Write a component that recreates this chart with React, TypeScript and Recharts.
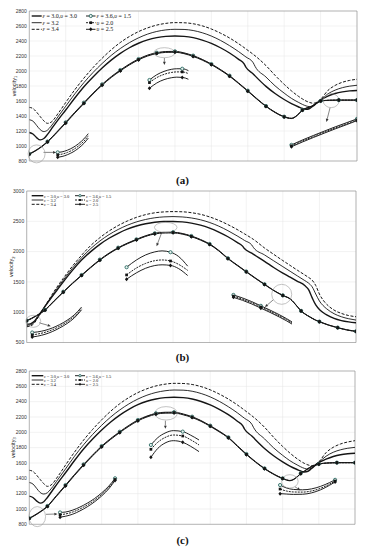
import React from 'react';
import {
  LineChart, Line, XAxis, YAxis, CartesianGrid, ReferenceDot, ReferenceLine,
  ReferenceArea, Legend, Label,
} from 'recharts';

// ---------------- tick labels ----------------
const xTicks = [0, 10, 20, 30, 40, 50, 60, 70, 80, 90];
const yTicks13 = [800, 1000, 1200, 1400, 1600, 1800, 2000, 2200, 2400, 2600, 2800];
const yTicks2 = [500, 1000, 1500, 2000, 2500, 3000];

// ---------------- shared theta grids ----------------
const thetaE = [0, 1, 2, 3, 4, 5, 6, 8, 10, 12.5, 15, 17.5, 20, 22.5, 25, 27.5, 30, 32.5, 35, 37.5, 40, 42.5, 45, 47.5, 50, 52.5, 55, 57.5, 59, 59.5, 61.5, 62, 65, 67.5, 70, 72, 74, 75, 76, 77, 78, 79, 80, 82, 84, 86, 88, 90];
const thetaEB = [0, 1, 2, 3, 4, 5, 6, 8, 10, 12.5, 15, 17.5, 20, 22.5, 25, 27.5, 30, 32.5, 35, 37.5, 40, 42.5, 45, 47.5, 50, 52.5, 55, 57.5, 59, 59.5, 61.5, 62, 65, 67.5, 70, 72, 74, 76, 77, 78, 79, 80, 81, 82, 84, 86, 88, 90];
const thetaL = [0, 2.5, 5, 7.5, 10, 12.5, 15, 17.5, 20, 22.5, 25, 27.5, 30, 32.5, 35, 37.5, 40, 42.5, 45, 47.5, 50, 52.5, 55, 57.5, 60, 62.5, 65, 67.5, 70, 72, 74, 75, 76, 77.5, 79, 80, 82.5, 85, 87.5, 90];

// ---------------- panel (a): velocity 1 ----------------
const a_e30 = [1180, 1160, 1112, 1082, 1100, 1155, 1222, 1355, 1480, 1640, 1790, 1920, 2040, 2145, 2235, 2310, 2370, 2415, 2445, 2462, 2467, 2462, 2445, 2412, 2368, 2310, 2240, 2155, 2095, 2050, 1960, 1935, 1795, 1700, 1620, 1565, 1520, 1500, 1488, 1500, 1535, 1575, 1610, 1665, 1700, 1722, 1735, 1740];
const a_e32 = [1350, 1332, 1275, 1218, 1192, 1212, 1265, 1398, 1530, 1695, 1845, 1980, 2100, 2208, 2300, 2378, 2442, 2492, 2527, 2548, 2556, 2554, 2540, 2510, 2466, 2408, 2338, 2258, 2205, 2187, 2110, 2062, 1920, 1802, 1705, 1635, 1580, 1555, 1535, 1525, 1540, 1575, 1612, 1695, 1745, 1778, 1798, 1810];
const a_e34 = [1515, 1500, 1452, 1392, 1335, 1302, 1318, 1440, 1580, 1750, 1905, 2045, 2170, 2283, 2380, 2460, 2525, 2575, 2612, 2635, 2645, 2643, 2630, 2602, 2560, 2505, 2440, 2363, 2312, 2294, 2222, 2203, 2072, 1942, 1822, 1735, 1660, 1628, 1600, 1580, 1570, 1585, 1622, 1740, 1808, 1850, 1875, 1890];
const a_u15 = [895, 965, 1060, 1185, 1316, 1450, 1578, 1705, 1822, 1925, 2013, 2093, 2160, 2212, 2244, 2260, 2262, 2242, 2205, 2155, 2093, 2020, 1938, 1840, 1738, 1632, 1533, 1452, 1391, 1370, 1430, 1480, 1505, 1530, 1575, 1600, 1610, 1612, 1612, 1612];
const a_u20 = [892, 962, 1056, 1180, 1310, 1444, 1572, 1699, 1816, 1919, 2007, 2087, 2154, 2206, 2238, 2254, 2256, 2236, 2199, 2150, 2088, 2015, 1933, 1836, 1734, 1628, 1530, 1449, 1389, 1368, 1428, 1478, 1503, 1528, 1573, 1600, 1610, 1612, 1612, 1612];
const a_u25 = [889, 958, 1052, 1175, 1304, 1438, 1566, 1693, 1810, 1913, 2001, 2081, 2148, 2200, 2232, 2248, 2250, 2231, 2194, 2145, 2084, 2011, 1929, 1832, 1730, 1625, 1527, 1446, 1387, 1366, 1426, 1476, 1501, 1526, 1571, 1600, 1610, 1612, 1612, 1612];
// zoomed insets (a)
const a1_t = [7.8, 9, 10.5, 12, 13.5, 15, 16.2];
const a1_u15 = [915, 922, 945, 980, 1030, 1095, 1165];
const a1_u20 = [882, 892, 915, 950, 1000, 1065, 1135];
const a1_u25 = [850, 860, 885, 920, 970, 1035, 1105];
const a1_marks = [7.8];
const a2_t = [33, 35, 37, 39, 40.5, 42, 43.7];
const a2_u15 = [1880, 1950, 1995, 2022, 2030, 2030, 2005];
const a2_u20 = [1845, 1912, 1955, 1980, 1988, 1988, 1965];
const a2_u25 = [1770, 1840, 1885, 1910, 1918, 1915, 1890];
const a2_marks = [33, 42];
const a3_t = [72, 75, 78, 81, 84, 87, 90];
const a3_u15 = [1015, 1080, 1140, 1198, 1255, 1308, 1362];
const a3_u20 = [1002, 1066, 1126, 1184, 1241, 1294, 1350];
const a3_u25 = [990, 1053, 1113, 1171, 1228, 1282, 1338];
const a3_marks = [72, 90];

// ---------------- panel (b): velocity 2 ----------------
const b_e30 = [800, 808, 845, 925, 1008, 1095, 1178, 1340, 1500, 1690, 1860, 2000, 2120, 2220, 2302, 2370, 2422, 2460, 2485, 2496, 2497, 2490, 2470, 2436, 2386, 2322, 2245, 2152, 2090, 2050, 1975, 1955, 1840, 1738, 1645, 1578, 1510, 1440, 1375, 1240, 1120, 1045, 995, 955, 898, 862, 840, 825];
const b_e32 = [780, 790, 830, 915, 1005, 1100, 1190, 1365, 1530, 1725, 1900, 2050, 2175, 2280, 2365, 2435, 2490, 2530, 2558, 2573, 2578, 2572, 2555, 2525, 2480, 2420, 2345, 2260, 2205, 2185, 2110, 2065, 1945, 1848, 1752, 1675, 1598, 1522, 1482, 1420, 1300, 1185, 1110, 1055, 975, 925, 892, 870];
const b_e34 = [760, 770, 815, 900, 1000, 1100, 1200, 1390, 1560, 1760, 1940, 2100, 2230, 2340, 2430, 2505, 2565, 2610, 2640, 2655, 2660, 2657, 2642, 2615, 2572, 2515, 2445, 2365, 2312, 2294, 2220, 2200, 2060, 1955, 1852, 1772, 1692, 1615, 1575, 1530, 1440, 1300, 1200, 1130, 1035, 980, 945, 925];
const b_u15 = [862, 940, 1040, 1190, 1338, 1480, 1614, 1745, 1868, 1975, 2065, 2140, 2203, 2262, 2302, 2318, 2320, 2300, 2258, 2200, 2126, 2020, 1890, 1780, 1672, 1565, 1462, 1362, 1278, 1222, 1092, 1022, 975, 920, 870, 845, 790, 746, 710, 685];
const b_u20 = [858, 936, 1036, 1186, 1333, 1475, 1609, 1740, 1862, 1969, 2059, 2134, 2197, 2256, 2296, 2312, 2314, 2294, 2252, 2194, 2121, 2015, 1886, 1776, 1668, 1561, 1459, 1359, 1276, 1220, 1090, 1020, 973, 918, 868, 843, 788, 744, 708, 683];
const b_u25 = [855, 932, 1032, 1181, 1328, 1470, 1604, 1735, 1857, 1964, 2054, 2129, 2192, 2251, 2291, 2307, 2309, 2289, 2247, 2189, 2116, 2011, 1882, 1772, 1664, 1557, 1456, 1356, 1274, 1218, 1088, 1018, 971, 916, 866, 841, 786, 742, 706, 681];
const b1_t = [1.5, 3, 5, 7, 9, 11, 13, 15];
const b1_u15 = [665, 675, 700, 740, 795, 865, 955, 1085];
const b1_u20 = [625, 640, 668, 710, 768, 840, 930, 1060];
const b1_u25 = [590, 605, 635, 680, 740, 812, 905, 1040];
const b1_marks = [1.5];
const b2_t = [27.3, 30, 32.5, 35, 37, 39.3, 41.5, 44];
const b2_u15 = [1742, 1862, 1945, 1995, 2012, 1990, 1920, 1760];
const b2_u20 = [1615, 1730, 1805, 1850, 1862, 1845, 1790, 1690];
const b2_u25 = [1544, 1650, 1725, 1770, 1782, 1772, 1720, 1605];
const b2_marks = [27.3, 39.3];
const b3_t = [56.5, 59, 61.5, 64, 66.5, 69, 71, 72.5];
const b3_u15 = [1285, 1235, 1175, 1105, 1035, 960, 895, 840];
const b3_u20 = [1265, 1215, 1155, 1086, 1016, 941, 877, 822];
const b3_u25 = [1245, 1196, 1136, 1067, 997, 922, 858, 804];
const b3_marks = [56.5, 64];

// ---------------- panel (c): velocity 3 ----------------
const c_e30 = [1168, 1150, 1105, 1076, 1095, 1150, 1215, 1348, 1472, 1632, 1782, 1912, 2030, 2135, 2225, 2300, 2360, 2405, 2435, 2452, 2457, 2452, 2435, 2402, 2358, 2300, 2230, 2145, 2085, 2040, 1952, 1928, 1790, 1695, 1615, 1560, 1515, 1495, 1482, 1492, 1528, 1568, 1605, 1650, 1685, 1708, 1720, 1726];
const c_e32 = [1345, 1326, 1270, 1215, 1195, 1212, 1262, 1392, 1522, 1688, 1838, 1972, 2092, 2200, 2292, 2370, 2434, 2484, 2520, 2542, 2552, 2550, 2536, 2506, 2462, 2404, 2334, 2254, 2200, 2182, 2105, 2060, 1915, 1798, 1700, 1630, 1575, 1550, 1530, 1520, 1535, 1570, 1608, 1688, 1740, 1772, 1792, 1804];
const c_e34 = [1505, 1490, 1442, 1385, 1330, 1295, 1312, 1432, 1572, 1742, 1898, 2038, 2163, 2276, 2373, 2453, 2518, 2568, 2605, 2628, 2639, 2637, 2624, 2596, 2554, 2499, 2434, 2357, 2306, 2288, 2216, 2197, 2066, 1936, 1816, 1730, 1655, 1623, 1595, 1575, 1565, 1580, 1615, 1735, 1805, 1848, 1874, 1891];
const c_u15 = [880, 950, 1039, 1175, 1312, 1450, 1582, 1705, 1821, 1920, 2008, 2090, 2161, 2212, 2248, 2262, 2263, 2240, 2204, 2152, 2087, 2015, 1935, 1825, 1717, 1618, 1530, 1458, 1400, 1372, 1420, 1465, 1495, 1543, 1575, 1587, 1600, 1604, 1604, 1604];
const c_u20 = [878, 947, 1035, 1170, 1306, 1444, 1576, 1699, 1815, 1914, 2002, 2084, 2155, 2206, 2242, 2256, 2257, 2234, 2198, 2147, 2082, 2010, 1931, 1821, 1713, 1614, 1527, 1455, 1398, 1370, 1418, 1463, 1493, 1541, 1573, 1586, 1600, 1604, 1604, 1604];
const c_u25 = [875, 943, 1031, 1165, 1300, 1438, 1570, 1693, 1809, 1908, 1996, 2078, 2149, 2200, 2236, 2250, 2251, 2229, 2193, 2142, 2078, 2006, 1927, 1817, 1709, 1611, 1524, 1452, 1396, 1368, 1416, 1461, 1491, 1539, 1571, 1585, 1600, 1604, 1604, 1604];
const c1_t = [8.5, 10, 12, 14, 16, 18, 20, 22, 23.7];
const c1_u15 = [955, 960, 985, 1025, 1075, 1135, 1210, 1300, 1400];
const c1_u20 = [925, 935, 960, 1000, 1052, 1113, 1190, 1282, 1385];
const c1_u25 = [893, 905, 932, 975, 1028, 1092, 1170, 1265, 1372];
const c1_marks = [8.5, 23.7];
const c2_t = [33.6, 35.5, 37.5, 39.8, 42.4, 44.5, 46.9];
const c2_u15 = [1835, 1930, 1990, 2022, 2009, 1965, 1900];
const c2_u20 = [1778, 1870, 1932, 1965, 1952, 1905, 1835];
const c2_u25 = [1674, 1790, 1860, 1891, 1870, 1820, 1748];
const c2_marks = [33.6, 42.4];
const c3_t = [69.3, 71, 73, 75.5, 78, 80.5, 83, 84.5];
const c3_u15 = [1312, 1275, 1255, 1250, 1262, 1295, 1345, 1380];
const c3_u20 = [1260, 1235, 1222, 1220, 1235, 1270, 1325, 1365];
const c3_u25 = [1200, 1195, 1190, 1192, 1210, 1250, 1310, 1352];
const c3_marks = [69.3, 84.5];

// ---------------- legend ----------------
const legendText: [string, boolean][][] = [
  [['ε', true], [' = 3.0,', false], ['υ', true], [' = 3.0', false]],
  [['ε', true], [' = 3.2', false]],
  [['ε', true], [' = 3.4', false]],
  [['ε', true], [' = 3.6,', false], ['υ', true], [' = 1.5', false]],
  [['υ', true], [' = 2.0', false]],
  [['υ', true], [' = 2.5', false]],
];

// ---------------- styling ----------------
const TEAL = '#2b6b63';
const INK = '#151515';
type Style = 'e30' | 'e32' | 'e34' | 'u15' | 'u20' | 'u25';
const legendStyles: Style[] = ['e30', 'e32', 'e34', 'u15', 'u20', 'u25'];
const STY: Record<Style, { w: number; dash?: string; marker?: 'circle' | 'square' | 'diamond' }> = {
  e30: { w: 1.4 },
  e32: { w: 0.9 },
  e34: { w: 1.0, dash: '3 1.6' },
  u15: { w: 0.95, marker: 'circle' },
  u20: { w: 0.95, dash: '2 1', marker: 'square' },
  u25: { w: 0.95, marker: 'diamond' },
};

type Pt = { t: number; v: number };
const zip = (t: number[], v: number[]): Pt[] => t.map((x, i) => ({ t: x, v: v[i] }));

function drawMarker(kind: string, cx: number, cy: number, key: string, s = 1) {
  if (kind === 'circle')
    return <circle key={key} cx={cx} cy={cy} r={1.6 * s} fill="#e8f0ee" stroke={TEAL} strokeWidth={0.9} />;
  if (kind === 'square')
    return <rect key={key} x={cx - 1.35 * s} y={cy - 1.35 * s} width={2.7 * s} height={2.7 * s} fill={INK} />;
  return (
    <polygon key={key} points={`${cx},${cy - 2 * s} ${cx + 1.7 * s},${cy} ${cx},${cy + 2 * s} ${cx - 1.7 * s},${cy}`} fill={INK} />
  );
}

const dotFn = (kind: string | undefined, marks: number[] | 'every5') => (p: any) => {
  const key = `d${p.index}`;
  if (!kind || p.cx == null || p.cy == null || !p.payload) return <g key={key} />;
  const t = p.payload.t;
  const show = marks === 'every5' ? t % 5 === 0 : marks.includes(t);
  return show ? drawMarker(kind, p.cx, p.cy, key) : <g key={key} />;
};

const arrowShape = (p: any) => {
  const { x1, y1, x2, y2 } = p;
  if ([x1, y1, x2, y2].some((v) => v == null || isNaN(v))) return <g />;
  const a = Math.atan2(y2 - y1, x2 - x1);
  const L = 3.2, H = 1.4;
  const bx = x2 - L * Math.cos(a), by = y2 - L * Math.sin(a);
  const pts = `${x2},${y2} ${bx + H * Math.sin(a)},${by - H * Math.cos(a)} ${bx - H * Math.sin(a)},${by + H * Math.cos(a)}`;
  return (
    <g>
      <line x1={x1} y1={y1} x2={bx} y2={by} stroke="#333" strokeWidth={0.6} />
      <polygon points={pts} fill="#333" />
    </g>
  );
};

type Ser = { id: string; style: Style; data: Pt[]; marks: number[] | 'every5' };
type Ell = { t: number; v: number; rx: number; ry: number };
type Arr = { t1: number; v1: number; t2: number; v2: number };
type LegendGeom = { left: number; top: number; w: number; h: number; font: number; rows: number[]; c1: [number, number]; t1: number; c2: [number, number]; t2: number };
type Cfg = {
  top: number; height: number; margin: { top: number; right: number; bottom: number; left: number };
  yAxisWidth: number; yDomain: [number, number]; yTicks: number[]; sub: string; yLabelX: number;
  xLabelX: number; xLabelDy: number; series: Ser[]; ellipses: Ell[]; arrows: Arr[]; legend: LegendGeom;
};

function buildSeries(
  tE: number[], e30: number[], e32: number[], e34: number[],
  u15: number[], u20: number[], u25: number[],
  insets: { t: number[]; a: number[]; b: number[]; c: number[]; marks: number[] }[],
): Ser[] {
  const out: Ser[] = [
    { id: 'e30', style: 'e30', data: zip(tE, e30), marks: [] },
    { id: 'e32', style: 'e32', data: zip(tE, e32), marks: [] },
    { id: 'e34', style: 'e34', data: zip(tE, e34), marks: [] },
    { id: 'u15', style: 'u15', data: zip(thetaL, u15), marks: 'every5' },
    { id: 'u20', style: 'u20', data: zip(thetaL, u20), marks: 'every5' },
    { id: 'u25', style: 'u25', data: zip(thetaL, u25), marks: 'every5' },
  ];
  insets.forEach((ins, k) => {
    out.push({ id: `i${k}a`, style: 'u15', data: zip(ins.t, ins.a), marks: ins.marks });
    out.push({ id: `i${k}b`, style: 'u20', data: zip(ins.t, ins.b), marks: ins.marks });
    out.push({ id: `i${k}c`, style: 'u25', data: zip(ins.t, ins.c), marks: ins.marks });
  });
  return out;
}

const legendA: LegendGeom = { left: 30, top: 11, w: 112, h: 24, font: 6, rows: [5, 11.7, 18.3], c1: [1.7, 11.7], t1: 12.5, c2: [56, 65.5], t2: 66.5 };
const legendBC: LegendGeom = { left: 30, top: 11, w: 92, h: 18, font: 4.4, rows: [4.7, 9, 13.3], c1: [1.7, 13.3], t1: 14, c2: [45, 55], t2: 56 };

const panels: Cfg[] = [
  {
    top: 0, height: 180, margin: { top: 11, right: 8, bottom: 19, left: 0 }, yAxisWidth: 29.3,
    yDomain: [800, 2800], yTicks: yTicks13, sub: '1', yLabelX: 13.5, xLabelX: 182.7, xLabelDy: 6.8,
    series: buildSeries(thetaE, a_e30, a_e32, a_e34, a_u15, a_u20, a_u25, [
      { t: a1_t, a: a1_u15, b: a1_u20, c: a1_u25, marks: a1_marks },
      { t: a2_t, a: a2_u15, b: a2_u20, c: a2_u25, marks: a2_marks },
      { t: a3_t, a: a3_u15, b: a3_u20, c: a3_u25, marks: a3_marks },
    ]),
    ellipses: [
      { t: 2.0, v: 895, rx: 8.5, ry: 9 },
      { t: 37.1, v: 2244, rx: 10.5, ry: 5 },
      { t: 82.9, v: 1605, rx: 8, ry: 7 },
    ],
    arrows: [
      { t1: 3.9, v1: 915, t2: 7.4, v2: 915 },
      { t1: 37.1, v1: 2175, t2: 37.1, v2: 2080 },
      { t1: 82.6, v1: 1510, t2: 81.6, v2: 1320 },
    ],
    legend: legendA,
  },
  {
    top: 180, height: 180, margin: { top: 11, right: 9, bottom: 17.5, left: 0 }, yAxisWidth: 26.7,
    yDomain: [500, 3000], yTicks: yTicks2, sub: '2', yLabelX: 11, xLabelX: 180, xLabelDy: 5.2,
    series: buildSeries(thetaEB, b_e30, b_e32, b_e34, b_u15, b_u20, b_u25, [
      { t: b1_t, a: b1_u15, b: b1_u20, c: b1_u25, marks: b1_marks },
      { t: b2_t, a: b2_u15, b: b2_u20, c: b2_u25, marks: b2_marks },
      { t: b3_t, a: b3_u15, b: b3_u20, c: b3_u25, marks: b3_marks },
    ]),
    ellipses: [
      { t: 1.8, v: 850, rx: 7.5, ry: 6 },
      { t: 38, v: 2400, rx: 11.3, ry: 5 },
      { t: 69.7, v: 1295, rx: 10, ry: 10 },
    ],
    arrows: [
      { t1: 3.4, v1: 825, t2: 6.6, v2: 770 },
      { t1: 36.9, v1: 2313, t2: 35.5, v2: 2090 },
      { t1: 67.4, v1: 1205, t2: 65.1, v2: 1085 },
    ],
    legend: legendBC,
  },
  {
    top: 360, height: 190, margin: { top: 11, right: 10, bottom: 25.7, left: 0 }, yAxisWidth: 29.3,
    yDomain: [800, 2800], yTicks: yTicks13, sub: '3', yLabelX: 13, xLabelX: 182.7, xLabelDy: 7.7,
    series: buildSeries(thetaE, c_e30, c_e32, c_e34, c_u15, c_u20, c_u25, [
      { t: c1_t, a: c1_u15, b: c1_u20, c: c1_u25, marks: c1_marks },
      { t: c2_t, a: c2_u15, b: c2_u20, c: c2_u25, marks: c2_marks },
      { t: c3_t, a: c3_u15, b: c3_u20, c: c3_u25, marks: c3_marks },
    ]),
    ellipses: [
      { t: 2.2, v: 900, rx: 8.3, ry: 10 },
      { t: 37.8, v: 2248, rx: 11.3, ry: 6.7 },
      { t: 72.0, v: 1360, rx: 8.3, ry: 6.7 },
    ],
    arrows: [
      { t1: 4.6, v1: 930, t2: 7.8, v2: 935 },
      { t1: 37.6, v1: 2152, t2: 37.6, v2: 2045 },
      { t1: 73.4, v1: 1290, t2: 74.9, v2: 1245 },
    ],
    legend: legendBC,
  },
];

function LegendBox({ g }: { g: LegendGeom }) {
  return (
    <svg width={g.w} height={g.h} style={{ display: 'block', overflow: 'visible' }}>
      {legendStyles.map((st, i) => {
        const col = i < 3 ? 0 : 1;
        const y = g.rows[i % 3];
        const [lx1, lx2] = col === 0 ? g.c1 : g.c2;
        const tx = col === 0 ? g.t1 : g.t2;
        const s = STY[st];
        return (
          <g key={st}>
            <line x1={lx1} y1={y} x2={lx2} y2={y} stroke={INK} strokeWidth={s.w} strokeDasharray={s.dash} />
            {s.marker ? drawMarker(s.marker, (lx1 + lx2) / 2, y, `lm${i}`, g.font / 6) : null}
            <text x={tx} y={y} dominantBaseline="central" fontSize={g.font} fontFamily="'Liberation Serif', 'DejaVu Serif', serif" fill="#111">
              {legendText[i].map(([txt, it], k) => (
                <tspan key={k} fontStyle={it ? 'italic' : 'normal'}>{txt}</tspan>
              ))}
            </text>
          </g>
        );
      })}
    </svg>
  );
}

const tickStyle = { fontSize: 5, fill: '#333', fontFamily: "'Liberation Sans', Arial, sans-serif" };

function Panel({ cfg }: { cfg: Cfg }) {
  return (
    <LineChart width={365} height={cfg.height} margin={cfg.margin}>
      <CartesianGrid stroke="#e4e4e4" strokeWidth={0.5} />
      <XAxis
        dataKey="t" type="number" domain={[0, 90]} ticks={xTicks} allowDataOverflow interval={0}
        tickLine={false} axisLine={false} tickSize={0} tickMargin={1} height={0} tick={tickStyle}
      >
        <Label
          content={(p: any) => {
            const vb = p.viewBox || { y: 0 };
            return (
              <text x={cfg.xLabelX} y={vb.y + cfg.xLabelDy} textAnchor="middle" fontSize={6} fontStyle="italic"
                fontFamily="'Liberation Serif', serif" fill="#222">θ</text>
            );
          }}
        />
      </XAxis>
      <YAxis
        type="number" domain={cfg.yDomain} ticks={cfg.yTicks} allowDataOverflow interval={0} width={cfg.yAxisWidth}
        tickLine={false} axisLine={false} tickSize={0} tickMargin={2.5} tick={tickStyle}
      >
        <Label
          content={(p: any) => {
            const vb = p.viewBox || { y: 0, height: 0 };
            const cy = vb.y + vb.height / 2;
            return (
              <text x={cfg.yLabelX} y={cy} transform={`rotate(-90 ${cfg.yLabelX} ${cy})`} textAnchor="middle"
                dominantBaseline="central" fontSize={5.5} fontFamily="'Liberation Sans', Arial, sans-serif" fill="#222">
                velocity<tspan fontSize={4} dy={1.5}>{cfg.sub}</tspan>
              </text>
            );
          }}
        />
      </YAxis>
      <ReferenceArea x1={0} x2={90} y1={cfg.yDomain[0]} y2={cfg.yDomain[1]} fill="none" fillOpacity={0}
        stroke="#8c8c8c" strokeWidth={0.6} ifOverflow="visible" />
      {cfg.series.map((s) => {
        const st = STY[s.style];
        return (
          <Line
            key={s.id} name={s.id} data={s.data} dataKey="v" type="monotone"
            stroke={INK} strokeWidth={st.w} strokeDasharray={st.dash}
            dot={dotFn(st.marker, s.marks)} activeDot={false} isAnimationActive={false}
            legendType="none"
          />
        );
      })}
      {cfg.ellipses.map((e, i) => (
        <ReferenceDot key={`e${i}`} x={e.t} y={e.v} r={1} ifOverflow="visible"
          shape={(p: any) => (
            <ellipse cx={p.cx} cy={p.cy} rx={e.rx} ry={e.ry} fill="none" stroke="#9a9a9a" strokeWidth={0.6} />
          )}
        />
      ))}
      {cfg.arrows.map((a, i) => (
        <ReferenceLine key={`a${i}`} segment={[{ x: a.t1, y: a.v1 }, { x: a.t2, y: a.v2 }]} ifOverflow="visible"
          stroke="#333" shape={arrowShape} />
      ))}
      <Legend
        layout="vertical" align="center" verticalAlign="middle"
        content={() => <LegendBox g={cfg.legend} />}
        wrapperStyle={{ position: 'absolute', left: cfg.legend.left, top: cfg.legend.top, width: cfg.legend.w, height: cfg.legend.h }}
      />
    </LineChart>
  );
}

const captions = [
  { text: '(a)', top: 173.5 },
  { text: '(b)', top: 351 },
  { text: '(c)', top: 533.5 },
];

export default function App() {
  return (
    <div style={{ position: 'absolute', left: 0, top: 0, width: 365, height: 550, background: '#fff', overflow: 'hidden' }}>
      {panels.map((cfg, i) => (
        <div key={i} style={{ position: 'absolute', left: 0, top: cfg.top, width: 365, height: cfg.height }}>
          <Panel cfg={cfg} />
        </div>
      ))}
      {captions.map((c) => (
        <div key={c.text} style={{
          position: 'absolute', left: 0, top: c.top, width: 365, textAlign: 'center',
          fontFamily: "'Liberation Serif', 'DejaVu Serif', serif", fontWeight: 'bold', fontSize: 11, lineHeight: '13px', color: '#111',
        }}>{c.text}</div>
      ))}
    </div>
  );
}
